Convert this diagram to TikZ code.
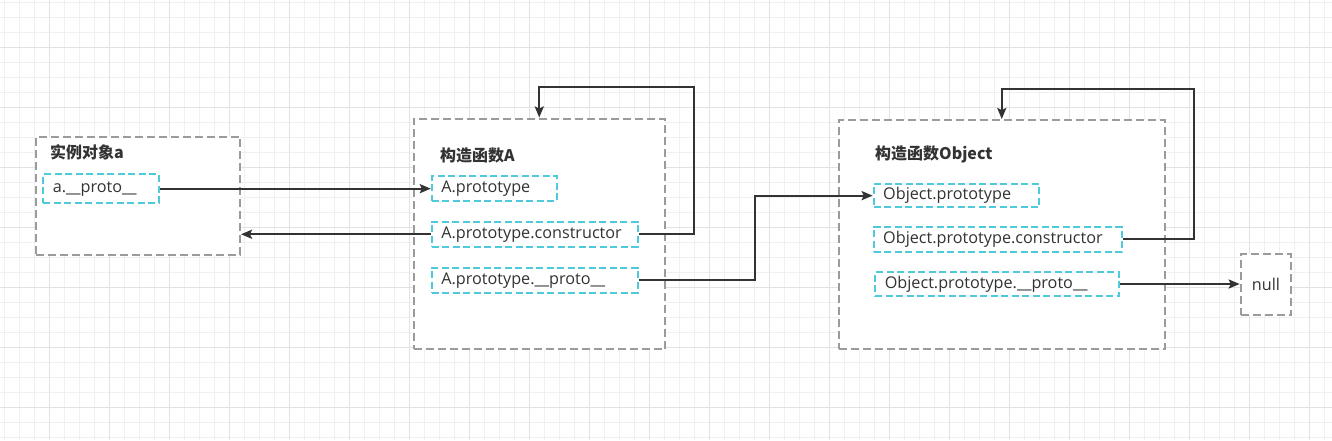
\documentclass[tikz,border=0pt]{standalone}
\usepackage{fontspec}
\setmainfont{Open Sans}
\newfontfamily\cjk{Noto Sans CJK SC}
\usetikzlibrary{arrows.meta}
\definecolor{gridminor}{HTML}{F0F0F0}
\definecolor{gridmajor}{HTML}{E2E2E2}
\definecolor{boxgray}{HTML}{9B9B9B}
\definecolor{boxcyan}{HTML}{4FC9DC}
\definecolor{ink}{HTML}{333333}
\begin{document}
\begin{tikzpicture}[x=1pt,y=-1pt,
 container/.style={draw=boxgray, fill=white, line width=2pt, dash pattern=on 8pt off 4pt, anchor=north west, inner sep=0pt},
 field/.style={draw=boxcyan, fill=white, line width=2pt, dash pattern=on 7pt off 3.5pt, anchor=north west, inner ysep=0pt, inner xsep=9.5pt, align=left, text=ink, font=\fontsize{16.2}{18}\selectfont},
 title/.style={anchor=west, inner sep=0pt, text=ink, font=\cjk\bfseries\fontsize{16}{18}\selectfont},
 link/.style={draw=ink, line width=2.2pt, -{Stealth[length=11pt,width=9pt,inset=2pt]}}
]
\useasboundingbox (0,0) rectangle (1332,440);
\fill[white] (0,0) rectangle (1332,440);
\foreach \i in {0,...,88} \draw[gridminor, line width=1pt] ({4.3+15*\i},0) -- ({4.3+15*\i},440);
\foreach \j in {0,...,29} \draw[gridminor, line width=1pt] (0,{2.3+15*\j}) -- (1332,{2.3+15*\j});
\foreach \i in {0,...,21} \draw[gridmajor, line width=1pt] ({49.3+60*\i},0) -- ({49.3+60*\i},440);
\foreach \j in {0,...,6} \draw[gridmajor, line width=1pt] (0,{47.3+60*\j}) -- (1332,{47.3+60*\j});

% containers
\node[container, minimum width=204.5pt, minimum height=118pt] (boxa) at (34.5,135.5) {};
\node[container, minimum width=251.5pt, minimum height=230.5pt] (boxA) at (412.5,117.5) {};
\node[container, minimum width=326.5pt, minimum height=228.5pt] (boxO) at (837.5,119) {};
\node[container, minimum width=50.5pt, minimum height=61pt, anchor=north west, text=ink, font=\fontsize{16.2}{18}\selectfont] (nul) at (1239.7,253) {null};

% titles
\node[title] (ta) at (50,152.5) {实例对象a};
\node[title] (tA) at (440,155) {构造函数A};
\node[title] (tO) at (875,154) {构造函数Object};

% fields
\node[field, text width=96.7pt, minimum height=28.7pt] (ap) at (42.3,173.3) {a.\_\_proto\_\_};
\node[field, text width=106.2pt, minimum height=25pt] (Ap) at (430.8,175) {A.prototype};
\node[field, text width=186.8pt, minimum height=25.5pt] (Ac) at (430.8,220.5) {A.prototype.constructor};
\node[field, text width=186.8pt, minimum height=25.5pt] (Apr) at (430.8,266.5) {A.prototype.\_\_proto\_\_};
\node[field, text width=146.6pt, minimum height=22.7pt] (Op) at (872.7,183.3) {Object.prototype};
\node[field, text width=229pt, minimum height=25.3pt] (Oc) at (872.7,225.7) {Object.prototype.constructor};
\node[field, text width=225pt, minimum height=24pt] (Opr) at (874.3,271) {Object.prototype.\_\_proto\_\_};

% bend points
\coordinate (Aloop) at (693.7,86.7);
\coordinate (mid) at (754.7,237);
\coordinate (Oloop) at (1194,89);

% connectors
\draw[link] (ap.east) -- (ap.east -| Ap.west);
\draw[link] (Ac.west) -- (Ac.west -| boxa.east);
\draw[link] (Ac.east) -| (Aloop) -| (boxA.north);
\draw[link] (Apr.east) -| (mid) |- (Op.west);
\draw[link] (Oc.east) -| (Oloop) -| (boxO.north);
\draw[link] (Opr.east) -- (Opr.east -| nul.west);
\end{tikzpicture}
\end{document}
